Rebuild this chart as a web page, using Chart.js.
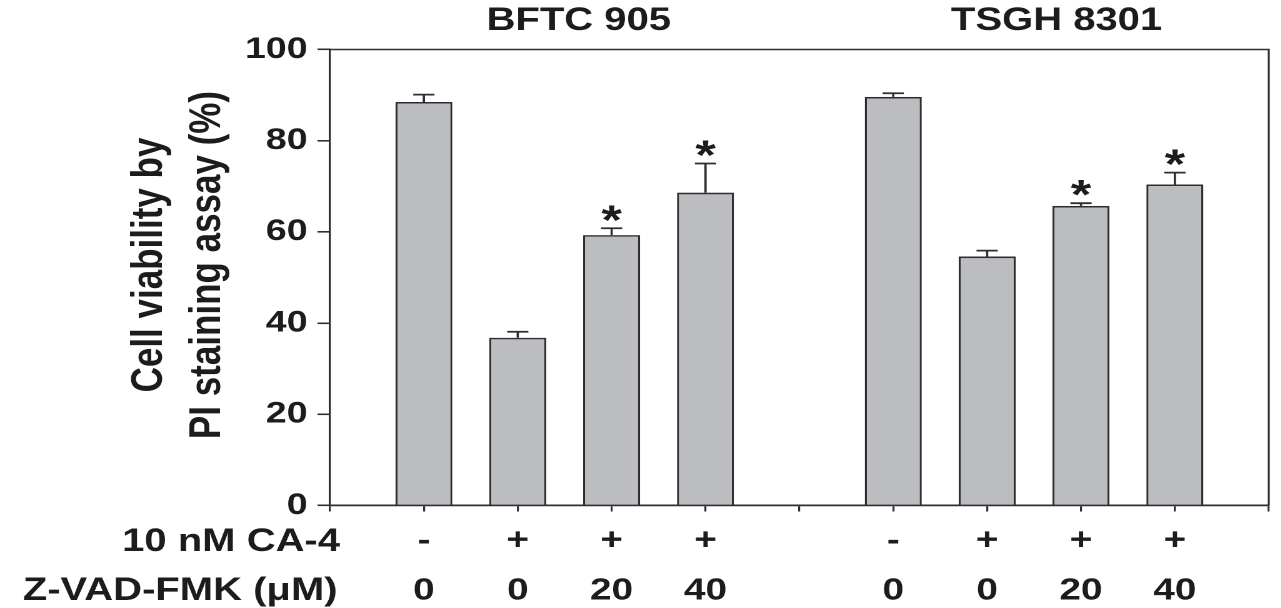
<!DOCTYPE html>
<html>
<head>
<meta charset="utf-8">
<script src="https://cdn.jsdelivr.net/npm/chart.js@4.4.1/dist/chart.umd.min.js"></script>
<style>
  html, body { margin: 0; padding: 0; background: #ffffff; overflow: hidden; }
  #wrap { position: absolute; left: 0; top: 0; width: 1025px; height: 608px; transform: scaleX(1.25); transform-origin: 0 0; }
</style>
</head>
<body>
<div id="wrap"><canvas id="chart"></canvas></div>
<script>
// ---- data ----
const groupNames = ['BFTC 905', 'TSGH 8301'];
const ca4Row = ['', '-', '+', '+', '+', '', '-', '+', '+', '+', ''];
const zvadRow = ['', '0', '0', '20', '40', '', '0', '0', '20', '40', ''];
const viability = [null, 88.5, 36.8, 59.3, 68.6, null, 89.6, 54.6, 65.7, 70.4, null];
const errorUp = [null, 1.6, 1.3, 1.5, 6.4, null, 0.8, 1.3, 0.6, 2.6, null];
const significant = [false, false, false, true, true, false, false, false, true, true, false];
const yTicks = [0, 20, 40, 60, 80, 100];
const rowHeaders = ['10 nM CA-4', 'Z-VAD-FMK (\u03BCM)'];
const yTitle = ['Cell viability by', 'PI staining assay (%)'];

// ---- style ----
const FONT = "'Liberation Sans', Arial, Helvetica, sans-serif";
const INK = '#1c1c1e';
const LINE = '#2e2e2e';
const BAR = '#bcbdc0';

const labels = ca4Row.map((c, i) => [c, zvadRow[i]]);

const annotPlugin = {
  id: 'annot',
  afterDatasetsDraw(chart) {
    const { ctx, chartArea: ca, scales } = chart;
    const xs = scales.x, ys = scales.y;
    const meta = chart.getDatasetMeta(0);
    ctx.save();
    // top and right frame
    ctx.strokeStyle = LINE;
    ctx.lineWidth = 1.6;
    ctx.beginPath();
    ctx.moveTo(ca.left, ca.top);
    ctx.lineTo(ca.right, ca.top);
    ctx.lineTo(ca.right, ca.bottom);
    ctx.stroke();
    // error bars and significance marks
    meta.data.forEach((bar, i) => {
      const v = viability[i];
      if (v === null || v === undefined) return;
      const yTop = ys.getPixelForValue(v);
      const yErr = ys.getPixelForValue(v + errorUp[i]);
      ctx.strokeStyle = LINE;
      ctx.lineWidth = 1.8;
      ctx.beginPath();
      ctx.moveTo(bar.x, yTop);
      ctx.lineTo(bar.x, yErr);
      ctx.moveTo(bar.x - 8.5, yErr);
      ctx.lineTo(bar.x + 8.5, yErr);
      ctx.stroke();
      if (significant[i]) {
        ctx.font = 'bold 42px ' + FONT;
        ctx.fillStyle = INK;
        ctx.textAlign = 'center';
        ctx.textBaseline = 'alphabetic';
        const m = ctx.measureText('*');
        const a = m.actualBoundingBoxAscent, d = m.actualBoundingBoxDescent;
        const target = yErr - 15;
        ctx.fillText('*', bar.x, target + (a - d) / 2);
      }
    });
    ctx.restore();
  },
  afterDraw(chart) {
    const { ctx, scales } = chart;
    const xs = scales.x;
    ctx.save();
    ctx.fillStyle = INK;
    // group titles
    ctx.font = 'bold 32px ' + FONT;
    ctx.textAlign = 'center';
    ctx.textBaseline = 'middle';
    const groupAnchor = [2.65, 7.74];
    groupNames.forEach((g, k) => {
      ctx.fillText(g, xs.getPixelForValue(groupAnchor[k]), 21);
    });
    // row headers for x tick rows
    ctx.font = 'bold 32px ' + FONT;
    ctx.textAlign = 'right';
    ctx.textBaseline = 'middle';
    ctx.fillText(rowHeaders[0], 272, 542);
    ctx.fillText(rowHeaders[1], 270, 591);
    // y title (two rotated lines)
    ctx.font = 'bold 35px ' + FONT;
    ctx.textAlign = 'center';
    ctx.textBaseline = 'middle';
    const lineX = [120, 166.4];
    yTitle.forEach((t, k) => {
      ctx.save();
      ctx.translate(lineX[k], 265);
      ctx.rotate(-Math.PI / 2);
      ctx.fillText(t, 0, 0);
      ctx.restore();
    });
    ctx.restore();
  }
};

new Chart(document.getElementById('chart'), {
  type: 'bar',
  data: {
    labels: labels,
    datasets: [{
      data: viability,
      backgroundColor: BAR,
      borderColor: LINE,
      borderWidth: 1.7,
      borderSkipped: 'start',
      barPercentage: 0.607,
      categoryPercentage: 1.0
    }]
  },
  options: {
    responsive: true,
    maintainAspectRatio: false,
    devicePixelRatio: 2,
    animation: false,
    layout: { padding: { top: 49.5, right: 10, left: 0, bottom: 0 } },
    plugins: {
      legend: { display: false },
      tooltip: { enabled: false },
      title: { display: false }
    },
    scales: {
      x: {
        type: 'category',
        offset: false,
        grid: { display: true, drawOnChartArea: false, drawTicks: true, tickLength: 6, color: LINE, lineWidth: 1.6, offset: false },
        border: { display: true, color: LINE, width: 1.8 },
        ticks: {
          autoSkip: false,
          maxRotation: 0,
          minRotation: 0,
          padding: 4.5,
          color: INK,
          font: { family: FONT, size: 31, weight: 'bold', lineHeight: 1.613 }
        },
        afterFit(scale) { scale.height = 102.5; }
      },
      y: {
        min: 0,
        max: 100,
        afterBuildTicks(scale) { scale.ticks = yTicks.map(v => ({ value: v })); },
        grid: { display: true, drawOnChartArea: false, drawTicks: true, tickLength: 10, color: LINE, lineWidth: 1.6 },
        border: { display: true, color: LINE, width: 1.6 },
        ticks: {
          padding: 8,
          color: INK,
          font: { family: FONT, size: 30, weight: 'bold' }
        },
        afterFit(scale) { scale.width = 264; }
      }
    }
  },
  plugins: [annotPlugin]
});
</script>
</body>
</html>
